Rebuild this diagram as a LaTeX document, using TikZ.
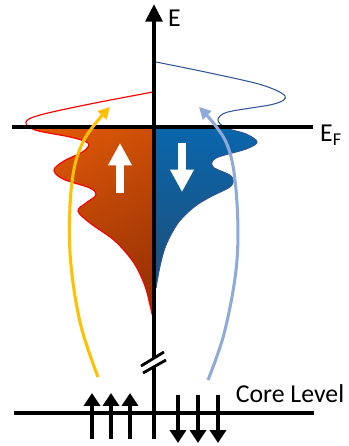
\documentclass[tikz,border=0pt]{standalone}
\usepackage{fontspec}
\setmainfont{Carlito}
\usetikzlibrary{arrows.meta,positioning,calc}
\definecolor{upred}{HTML}{FF0000}
\definecolor{uporange}{HTML}{E35B08}
\definecolor{upbrown}{HTML}{9C3405}
\definecolor{dnblue}{HTML}{0070C0}
\definecolor{dndark}{HTML}{1F4E79}
\definecolor{dnline}{HTML}{2F5597}
\definecolor{goldarr}{HTML}{FFC000}
\definecolor{palearr}{HTML}{8EAADB}

\begin{document}
\begin{tikzpicture}[x=0.03cm,y=-0.03cm,
  axisline/.style={line width=4.2pt,black},
  levelline/.style={line width=3.8pt,black},
  spinarr/.style={-{Triangle[length=11pt,width=13.6pt]},line width=4.2pt,black},
  whitearr/.style={-{Triangle[length=19pt,width=19pt]},line width=6.8pt,white},
  excite/.style={-{Triangle[length=10pt,width=10pt]},line width=2.6pt},
  lbl/.style={font=\fontsize{22}{22}\selectfont,inner sep=0pt},
]
\useasboundingbox (0,0) rectangle (349,446);

% DOS curves
\def\upcurve{plot[smooth,tension=0.55] coordinates {(153,92) (90,104) (40,115) (26,122) (35,130) (70,137) (88,143) (84,151) (64,161) (54,170) (63,179) (90,188) (96,195) (86,203) (78,211) (90,223) (115,241) (134,263) (145,286) (150,305) (153,318)}}
\def\dncurve{plot[smooth,tension=0.55] coordinates {(156,62) (210,73) (262,85) (285,96) (274,104) (228,112) (218,120) (226,128) (246,134) (257,142) (246,149) (216,158) (213,167) (231,176) (231,186) (210,197) (194,207) (178,223) (166,245) (160,266) (156,288)}}

% spin-up filling below E_F
\begin{scope}
  \clip (0,127) rectangle (154,330);
  \fill[top color=uporange,bottom color=upbrown,shading angle=30] \upcurve -- cycle;
\end{scope}
\draw[upred,line width=1pt] \upcurve;

% spin-down filling below E_F
\begin{scope}
  \clip (154,127) rectangle (349,330);
  \fill[top color=dnblue,bottom color=dndark] \dncurve -- cycle;
\end{scope}
\draw[dnline,line width=0.9pt] \dncurve;

% energy axis with break
\coordinate (bot) at (154,439);
\coordinate (top) at (154,4);
\draw[axisline,-{Triangle[length=15pt,width=14pt]}] (bot) -- (top);
\fill[white] (141,366) -- (163,353) -- (166,360) -- (143,373) -- cycle;
\draw[line width=2.4pt] (141,366) -- (164,352);
\draw[line width=2.4pt] (143,373) -- (166,360);
\node[lbl,anchor=west] (elbl) at (168,18) {E};

% Fermi level
\coordinate (fl) at (12,127);
\coordinate (fr) at (313,127);
\draw[levelline] (fl) -- (fr);
\node[lbl,anchor=west] (eflbl) at (320,135) {E\textsubscript{F}};

% spin arrows in the bands
\coordinate (wu1) at (120,193);
\coordinate (wu2) at (120,143);
\coordinate (wd1) at (182,143);
\coordinate (wd2) at (182,192);
\draw[whitearr] (wu1) -- (wu2);
\draw[whitearr] (wd1) -- (wd2);

% core level
\coordinate (cl) at (14,413);
\coordinate (cr) at (314,413);
\draw[levelline] (cl) -- (cr);
\node[lbl] (core) at (290,394) {Core Level};
\foreach \x in {92,111,130}
  \draw[spinarr] (\x,439) -- (\x,393);
\foreach \x in {178,198,218}
  \draw[spinarr] (\x,395) -- (\x,443);

% excitation arrows
\coordinate (ys) at (98,377);
\coordinate (ye) at (110,107);
\coordinate (bs) at (208,380);
\coordinate (be) at (199,107);
\draw[excite,goldarr] plot[smooth,tension=0.6] coordinates {(ys) (80,322) (70,252) (72,182) (84,140) (ye)};
\draw[excite,palearr] plot[smooth,tension=0.6] coordinates {(bs) (225,330) (237,260) (236,190) (226,142) (be)};
\end{tikzpicture}
\end{document}
